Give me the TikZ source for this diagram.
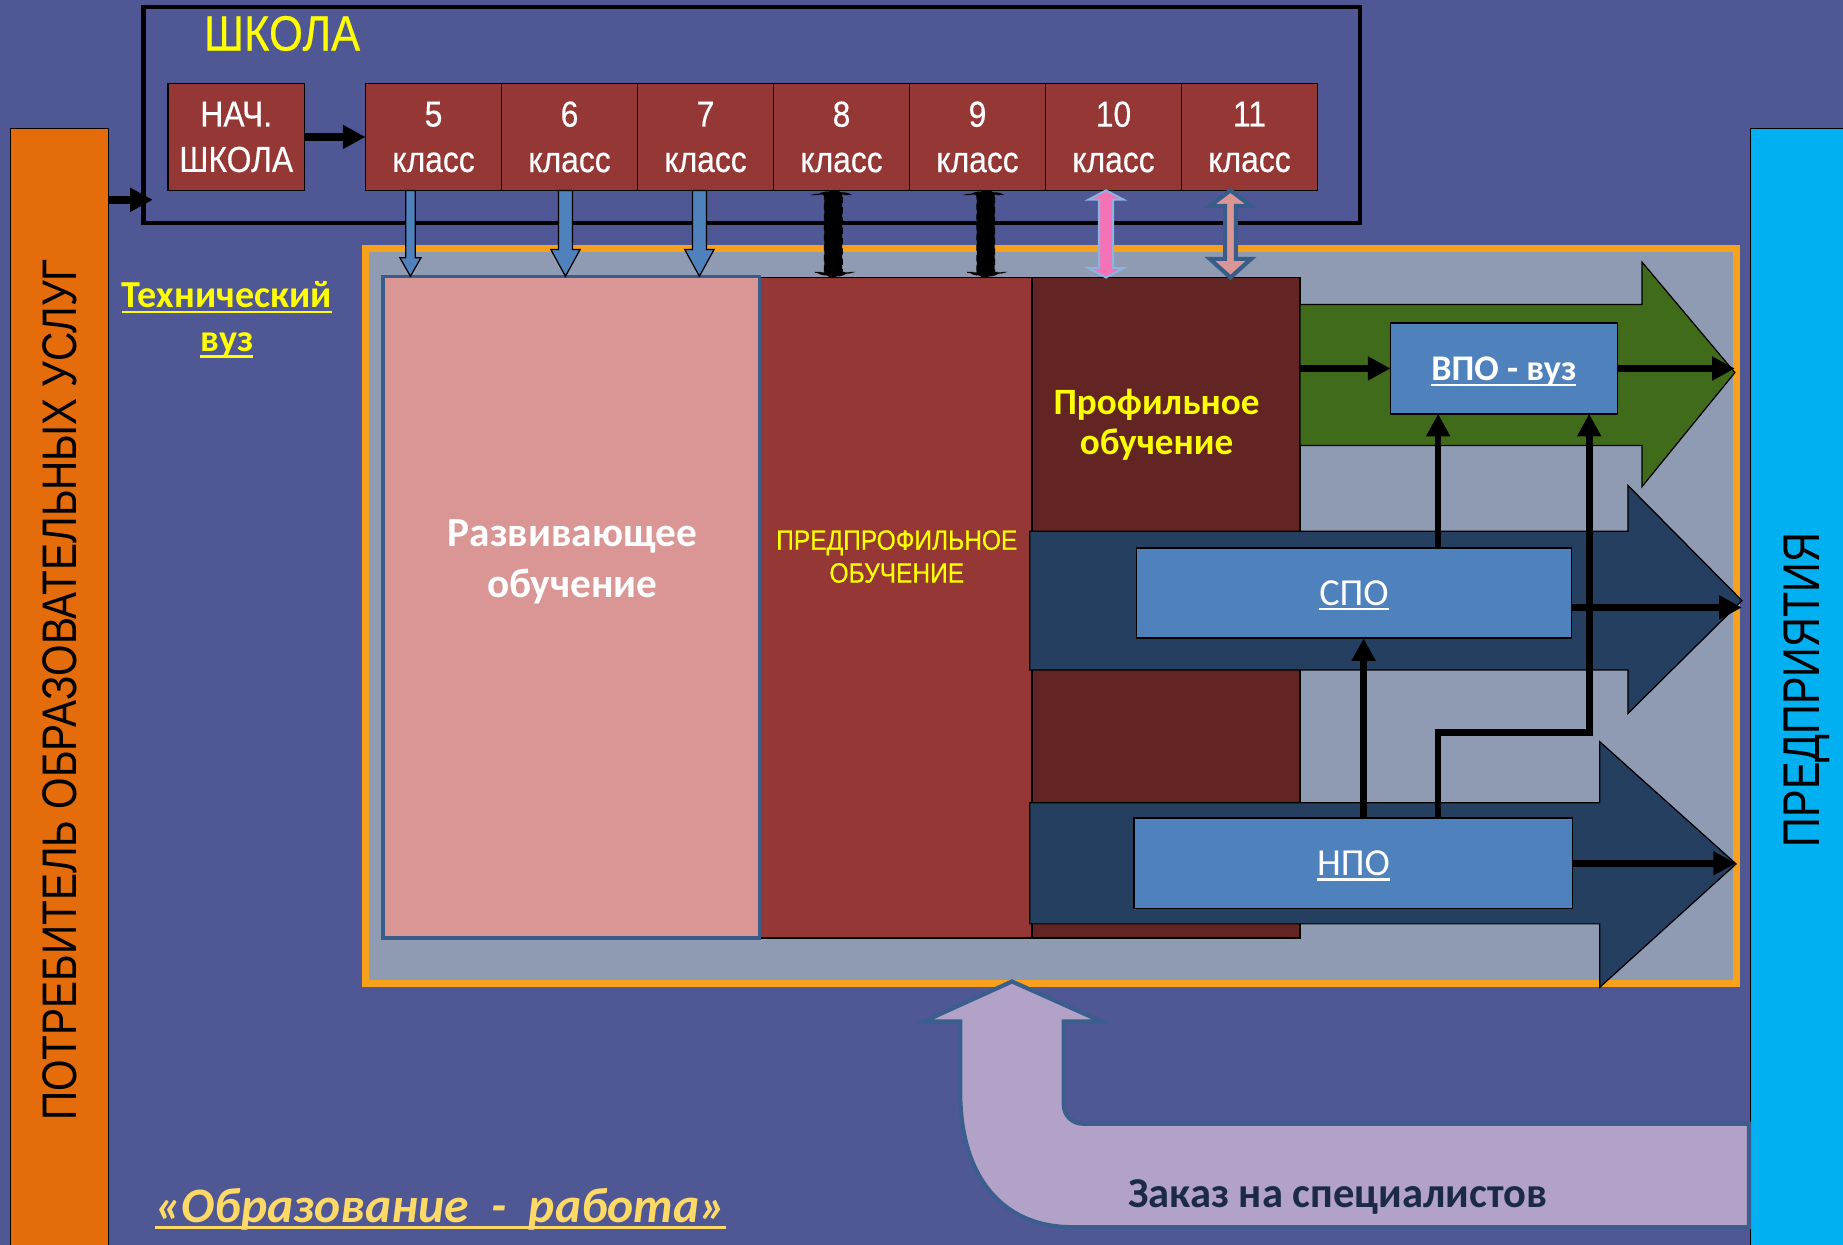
\documentclass[tikz,border=0pt]{standalone}
\usepackage{fontspec}
\setmainfont{Carlito}
\newfontfamily\narrowfont[FakeStretch=0.88,FakeBold=0.4]{Liberation Sans}
\newfontfamily\sidefont[FakeStretch=0.8]{Liberation Sans}
\newfontfamily\consumerfont[FakeStretch=0.835]{Liberation Sans}
\usepackage{tikz}
\usetikzlibrary{arrows.meta,positioning,calc}
\definecolor{bgblue}{HTML}{4F5794}
\definecolor{consumerorange}{HTML}{E46C0A}
\definecolor{enterprisecyan}{HTML}{00B0F0}
\definecolor{gradered}{HTML}{953735}
\definecolor{trackorange}{HTML}{F7A11C}
\definecolor{panelgray}{HTML}{8E9BB2}
\definecolor{devpink}{HTML}{D99694}
\definecolor{devedge}{HTML}{385D8A}
\definecolor{profdark}{HTML}{632523}
\definecolor{bandgreen}{HTML}{3F6B1A}
\definecolor{bandnavy}{HTML}{253F61}
\definecolor{levelblue}{HTML}{4F81BD}
\definecolor{schoolyellow}{HTML}{FFFF00}
\definecolor{lavender}{HTML}{B3A2C7}
\definecolor{orderedge}{HTML}{3B5E8E}
\definecolor{ordertext}{HTML}{1A2A47}
\definecolor{slogancol}{HTML}{FFD966}
\definecolor{pinkarrow}{HTML}{F472B6}
\definecolor{pinkedge}{HTML}{8DB3E2}
% underline that runs through the descenders, as on the slide
\newcommand\pptul[2][2.8pt]{\setbox0\hbox{#2}\rlap{\rule[-#1]{\wd0}{1.1pt}}\box0}
% block arrow pointing down: from, to, half shaft, half head, head length, style
\newcommand\downblock[6]{%
  \path[#6] let \p1=(#1), \p2=(#2) in
    (\x1-#3,\y1) -- (\x1+#3,\y1) -- (\x1+#3,\y2+#5) -- (\x1+#4,\y2+#5)
    -- (\x1,\y2) -- (\x1-#4,\y2+#5) -- (\x1-#3,\y2+#5) -- cycle;}
% block arrow with two heads: from, to, half shaft, half head, top length, bottom length, style
\newcommand\bothblock[7]{%
  \path[#7] let \p1=(#1), \p2=(#2) in
    (\x1,\y1) -- (\x1+#4,\y1-#5) -- (\x1+#3,\y1-#5) -- (\x1+#3,\y2+#6)
    -- (\x1+#4,\y2+#6) -- (\x1,\y2) -- (\x1-#4,\y2+#6) -- (\x1-#3,\y2+#6)
    -- (\x1-#3,\y1-#5) -- (\x1-#4,\y1-#5) -- cycle;}
\tikzset{
    framebox/.style={draw=black,inner sep=0pt,outer sep=0pt},
    gradebox/.style={framebox,line width=0.8pt,fill=gradered,text=white,
      minimum width=2.314cm,minimum height=1.82cm,align=center,
      font=\narrowfont\fontsize{17.5}{22}\selectfont},
    stagebox/.style={framebox,line width=0.6pt,minimum height=11.24cm},
    stagetext/.style={align=center,inner sep=0pt},
    levelbox/.style={framebox,line width=0.8pt,fill=levelblue,text=white,
      minimum height=1.54cm,text height=12pt,text depth=0pt,
      font=\fontsize{18.5}{20}\selectfont},
    sidebar/.style={framebox,line width=0.6pt,rotate=90,minimum width=19.12cm,
      text=black,text depth=0pt},
    bandarrow/.style={draw=black,line width=0.6pt,line join=miter},
    conn/.style={-{Triangle[length=11pt,width=11pt]},line width=3.2pt,draw=black}
}
\begin{document}
\begin{tikzpicture}[x=0.02cm,y=-0.02cm]
  \useasboundingbox (0,0) rectangle (1568,1059);
  \fill[bgblue] (0,0) rectangle (1568,1059);

  % side bars
  \node[sidebar,fill=consumerorange,minimum height=1.66cm,text height=16.5pt,
    font=\consumerfont\fontsize{23.5}{26}\selectfont] (consumer) at (50.5,587)
    {ПОТРЕБИТЕЛЬ ОБРАЗОВАТЕЛЬНЫХ УСЛУГ};
  \node[sidebar,fill=enterprisecyan,minimum height=1.72cm,text height=17.9pt,
    font=\sidefont\fontsize{25}{28}\selectfont] (enterprise) at (1532,587)
    {ПРЕДПРИЯТИЯ};

  % school
  \node[framebox,line width=2pt,minimum width=20.7cm,minimum height=3.68cm]
    (schoolframe) at (639.5,98) {};
  \node[anchor=base,text=schoolyellow,font=\narrowfont\fontsize{24}{28}\selectfont]
    (schooltitle) at (240,43) {ШКОЛА};
  \node[gradebox,minimum width=2.32cm] (nach) at (201,116.5) {НАЧ.\\ШКОЛА};
  \foreach \n [count=\i] in {5,...,11}
    \node[gradebox] (g\n) at ({311+115.7*(\i-0.5)},116.5) {\n\\класс};
  \draw[conn,line width=3.6pt] (nach.east) -- (g5.west);
  \coordinate (feed) at (92,170);
  \draw[conn,line width=3.6pt,shorten >=-4.5pt] (feed) -- (feed -| schoolframe.west);

  % stages
  \node[framebox,fill=panelgray,draw=trackorange,line width=3.4pt,
    minimum width=23.33cm,minimum height=12.52cm] (track) at (894.25,524) {};
  \node[stagebox,fill=gradered,minimum width=4.64cm] (preprof) at (762,517) {};
  \node[stagebox,fill=profdark,minimum width=4.56cm] (prof) at (992,517) {};
  \node[stagebox,fill=devpink,draw=devedge,line width=1.7pt,minimum width=6.4cm,
    minimum height=11.26cm] (dev) at (486,516.5) {};
  \node[stagetext,text=white,font=\bfseries\fontsize{20}{24.9}\selectfont]
    (devtext) at (487,478) {Развивающее\\обучение};
  \node[stagetext,text=schoolyellow,font=\narrowfont\fontsize{13.5}{15.9}\selectfont]
    (preproftext) at (763,473.5) {ПРЕДПРОФИЛЬНОЕ\\ОБУЧЕНИЕ};
  \node[stagetext,text=schoolyellow,font=\bfseries\fontsize{18}{19.6}\selectfont]
    (proftext) at (984,361.5) {Профильное\\обучение};

  % outgoing bands
  \draw[bandarrow,fill=bandgreen] (1106,259) -- (1397,259) -- (1397,223) -- (1476,317)
    -- (1397,414) -- (1397,379) -- (1106,379) -- cycle;
  \draw[bandarrow,fill=bandnavy] (876,452) -- (1385,452) -- (1385,413) -- (1482,511)
    -- (1385,607) -- (1385,570) -- (876,570) -- cycle;
  \draw[bandarrow,fill=bandnavy] (876,683) -- (1361,683) -- (1361,631) -- (1477,735)
    -- (1361,840) -- (1361,786) -- (876,786) -- cycle;
  \coordinate (greentip) at (1476,317);
  \coordinate (spotip) at (1482,511);
  \coordinate (npotip) at (1477,735);

  \node[levelbox,minimum width=3.86cm,font=\bfseries\fontsize{17.5}{20}\selectfont,text height=11.3pt]
    (vpo) at (1279.5,313.5) {\pptul{ВПО - вуз}};
  \node[levelbox,minimum width=7.4cm] (spo) at (1152,504.5) {\pptul[2.4pt]{СПО}};
  \node[levelbox,minimum width=7.46cm] (npo) at (1151.5,734.5) {\pptul[2.4pt]{НПО}};

  % links between levels
  \draw[conn] (prof.east |- vpo.west) -- (vpo.west);
  \draw[conn] (vpo.east) -- (vpo.east -| greentip);
  \coordinate (up1) at ($(vpo.south west)!0.21!(vpo.south east)$);
  \coordinate (up2) at ($(spo.south west)!0.522!(spo.south east)$);
  \coordinate (up3) at ($(vpo.south west)!0.876!(vpo.south east)$);
  \draw[conn] (spo.north -| up1) -- (up1);
  \draw[conn] (npo.north -| up2) -- (up2);
  \draw[conn] (npo.north -| up1) -- (up1 |- 0,623) -| (up3);
  \coordinate (spoout) at ($(spo.north east)!0.66!(spo.south east)$);
  \draw[conn] (spoout) -- (spoout -| spotip);
  \draw[conn] (npo.east) -- (npo.east -| npotip);

  % grades into stages
  \downblock{$(g5.south west)!0.33!(g5.south east)$}{dev.north}{2.3pt}{5.1pt}{9pt}
    {fill=levelblue,draw=black,line width=0.6pt}
  \downblock{$(g6.south west)!0.47!(g6.south east)$}{dev.north}{3.4pt}{7.1pt}{13pt}
    {fill=levelblue,draw=black,line width=0.6pt}
  \downblock{$(g7.south west)!0.455!(g7.south east)$}{dev.north}{3.4pt}{7.1pt}{13pt}
    {fill=levelblue,draw=black,line width=0.6pt}
  \bothblock{$(g8.south west)!0.44!(g8.south east)$}{preprof.north}{4.3pt}{9pt}{2pt}{2.5pt}
    {fill=black,draw=black,line width=0.5pt,densely dashed}
  \bothblock{$(g9.south west)!0.56!(g9.south east)$}{preprof.north}{4.3pt}{9pt}{2pt}{2.5pt}
    {fill=black,draw=black,line width=0.5pt,densely dashed}
  \bothblock{$(g10.south west)!0.445!(g10.south east)$}{prof.north}{3.4pt}{8.5pt}{4.5pt}{4.5pt}
    {fill=pinkarrow,draw=pinkedge,line width=1pt}
  \bothblock{$(g11.south west)!0.36!(g11.south east)$}{prof.north}{2.6pt}{10pt}{7.5pt}{9pt}
    {fill=devpink,draw=devedge,line width=2pt}

  % order from the enterprises
  \draw[fill=lavender,draw=orderedge,line width=2pt] (1488,1044) -- (912,1044)
    .. controls (852,1044) and (817,1000) .. (817,930) -- (817,869) -- (786,869)
    -- (861,835) -- (937,869) -- (905,869) -- (905,940)
    arc[start angle=180,end angle=90,radius=16] -- (1488,956) -- cycle;
  \node[anchor=base,text=ordertext,font=\bfseries\fontsize{20.6}{24}\selectfont]
    (order) at (1138,1027) {Заказ на специалистов};

  \node[stagetext,text=schoolyellow,font=\bfseries\fontsize{18.5}{21.5}\selectfont]
    (tech) at (193,272) {\pptul{Технический}\\\pptul{вуз}};
  \node[anchor=base,text=slogancol,font=\bfseries\itshape\fontsize{24}{28}\selectfont]
    (slogan) at (375,1040) {\pptul[3pt]{«Образование~~-~~работа»}};
\end{tikzpicture}
\end{document}
